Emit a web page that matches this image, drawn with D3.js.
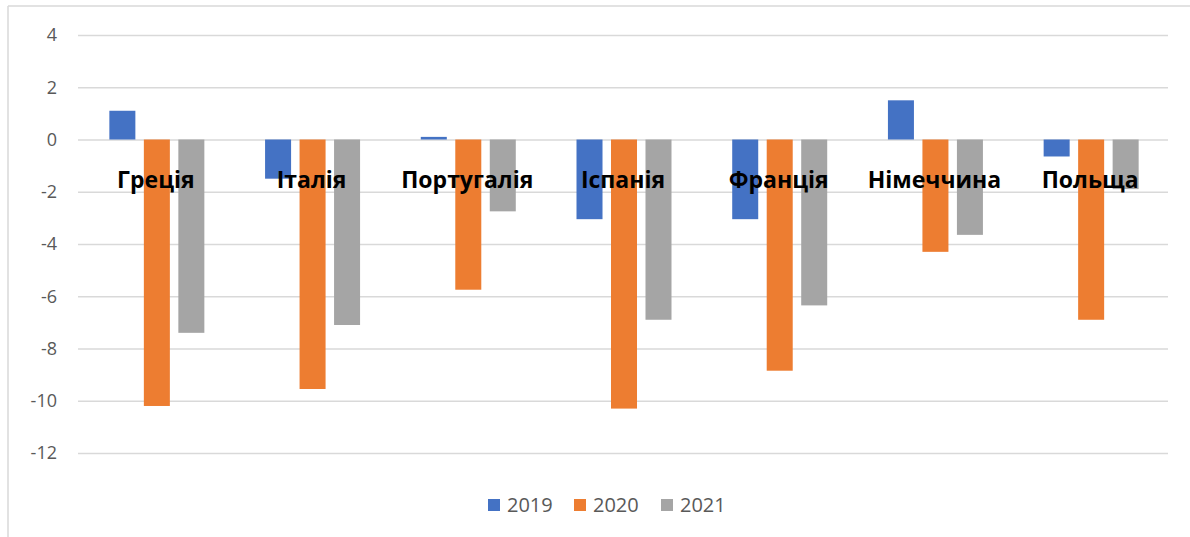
<!DOCTYPE html>
<html>
<head>
<meta charset="utf-8">
<script src="https://cdn.jsdelivr.net/npm/d3@7"></script>
<style>
  body { margin: 0; background: #fff; }
  svg { display: block; }
</style>
</head>
<body>
<svg id="chart" width="1190" height="537"></svg>
<script>
var countries = ["Греція", "Італія", "Португалія", "Іспанія", "Франція", "Німеччина", "Польща"];
var years = ["2019", "2020", "2021"];
var v2019 = [1.1, -1.5, 0.1, -3.05, -3.05, 1.5, -0.65];
var v2020 = [-10.2, -9.55, -5.75, -10.3, -8.85, -4.3, -6.9];
var v2021 = [-7.4, -7.1, -2.75, -6.9, -6.35, -3.65, -1.9];
var yTicks = [4, 2, 0, -2, -4, -6, -8, -10, -12];
var colors = ["#4472c4", "#ed7d31", "#a5a5a5"];

var series = [v2019, v2020, v2021];
var svg = d3.select("#chart");

/* outer chart border (top + left only visible) */
svg.append("line").attr("x1", 8).attr("x2", 1190).attr("y1", 6).attr("y2", 6)
    .style("stroke", "#d9d9d9").style("stroke-width", 1.5);
svg.append("line").attr("x1", 8).attr("x2", 8).attr("y1", 6).attr("y2", 537)
    .style("stroke", "#d9d9d9").style("stroke-width", 1.5);

var x0 = d3.scaleBand().domain(countries).range([78, 1168]).paddingInner(0).paddingOuter(0);
var mid = x0.bandwidth() / 2;
var x1 = d3.scaleBand().domain(years).range([mid - 46.5, mid + 48.5]).paddingInner(0.246);
var y = d3.scaleLinear().domain([-12, 4]).range([453, 35]);

/* gridlines + tick labels */
var yAxis = d3.axisLeft(y).tickValues(yTicks).tickSize(-(1168 - 78)).tickFormat(d3.format("d"));
var ga = svg.append("g").attr("transform", "translate(78,0)").call(yAxis);
ga.select(".domain").remove();
ga.selectAll(".tick line").style("stroke", "#d9d9d9").style("stroke-width", 1.5);
ga.selectAll(".tick text")
    .attr("x", -21)
    .style("fill", "#595959")
    .style("font-family", "'Open Sans', sans-serif")
    .style("font-size", "18px")
    .text(function (d) { return d < 0 ? "-" + Math.abs(d) : d; });

var groups = svg.selectAll("g.cat")
    .data(countries)
    .enter().append("g")
    .attr("class", "cat")
    .attr("transform", function (d) { return "translate(" + x0(d) + ",0)"; });

groups.selectAll("rect")
    .data(function (d, i) { return series.map(function (s, k) { return { year: years[k], v: s[i], k: k }; }); })
    .enter().append("rect")
    .attr("x", function (d) { return x1(d.year); })
    .attr("width", x1.bandwidth())
    .attr("y", function (d) { return y(Math.max(0, d.v)); })
    .attr("height", function (d) { return Math.abs(y(d.v) - y(0)); })
    .style("fill", function (d) { return colors[d.k]; });

/* category labels drawn over the bars */
groups.append("text")
    .attr("x", mid)
    .attr("y", 188)
    .attr("text-anchor", "middle")
    .style("font-family", "'Open Sans', sans-serif")
    .style("font-weight", "bold")
    .style("font-size", "23px")
    .style("fill", "#000")
    .text(function (d) { return d; });

/* legend */
var legendX = [488, 574, 661];
var lg = svg.selectAll("g.leg")
    .data(years)
    .enter().append("g")
    .attr("class", "leg")
    .attr("transform", function (d, i) { return "translate(" + legendX[i] + ",499)"; });
lg.append("rect").attr("width", 12).attr("height", 12)
    .style("fill", function (d, i) { return colors[i]; });
lg.append("text").attr("x", 19).attr("y", 13)
    .style("font-family", "'Open Sans', sans-serif")
    .style("font-size", "20px")
    .style("fill", "#595959")
    .text(function (d) { return d; });
</script>
</body>
</html>
